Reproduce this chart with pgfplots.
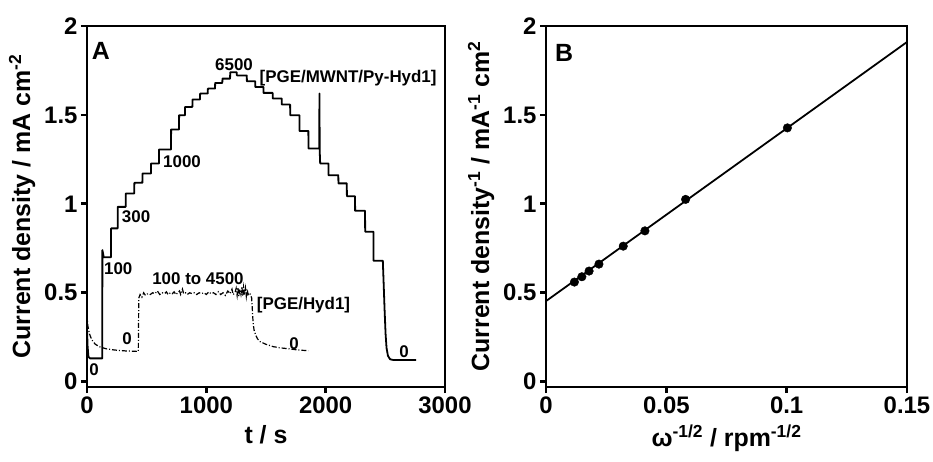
\documentclass[border=0pt]{standalone}
\usepackage{pgfplots}
\pgfplotsset{compat=1.18}
\usepackage{fontspec}
\setmainfont{Liberation Sans}
\begin{document}
\begin{tikzpicture}
\path[use as bounding box] (0,0) rectangle (933bp,462bp);
\pgfplotsset{
  myax/.style={
    scale only axis,
    height=361bp,
    ymin=-0.03, ymax=2,
    ytick={0,0.5,1,1.5,2},
    yticklabels={0,0.5,1,1.5,2},
    tick pos=left,
    tick align=outside,
    major tick length=6bp,
    axis line style={line width=2.8pt},
    every tick/.style={line width=2.8pt,black},
    ticklabel style={font=\fontsize{24}{24}\selectfont\bfseries},
    label style={font=\fontsize{25}{25}\selectfont\bfseries},
    xlabel style={yshift=-5bp},
    ylabel style={yshift=2bp},
    clip=false,
  },
}
\begin{axis}[myax,
  at={(87bp,75bp)}, anchor=south west,
  width=358bp,
  xmin=0, xmax=3000,
  xtick={0,1000,2000,3000},
  xticklabels={0,1000,2000,3000},
  xlabel={t / s},
  ylabel={Current density / mA cm\textsuperscript{-2}},
]
\addplot[black, line width=1.8pt, line join=round] coordinates {
(0,0.30) (5,0.20) (12,0.14) (25,0.131) (128,0.131) (129,0.74) (135,0.72) (140,0.70) (201,0.70)
(202,0.862) (257,0.862) (258,0.983) (324,0.983) (325,1.058) (396,1.058) (397,1.118) (464,1.118)
(465,1.171) (536,1.171) (537,1.227) (603,1.227) (604,1.306) (704,1.306) (705,1.418) (771,1.418)
(772,1.498) (821,1.498) (822,1.545) (883,1.545) (884,1.587) (947,1.587) (948,1.62) (1012,1.62)
(1013,1.648) (1073,1.648) (1074,1.68) (1134,1.68) (1135,1.704) (1199,1.704) (1200,1.74) (1255,1.74)
(1256,1.722) (1339,1.722) (1340,1.689) (1410,1.689) (1411,1.657) (1478,1.657) (1479,1.624) (1556,1.624)
(1557,1.592) (1632,1.592) (1633,1.558) (1702,1.558) (1703,1.498) (1780,1.498) (1781,1.41) (1855,1.41)
(1856,1.311) (1946,1.311) (1948,1.62) (1950,1.30) (1954,1.227) (2023,1.227) (2024,1.161) (2106,1.161)
(2107,1.115) (2177,1.115) (2178,1.043) (2246,1.043) (2247,0.961) (2330,0.961) (2331,0.843) (2400,0.843)
(2401,0.68) (2479,0.68) (2486,0.55) (2494,0.40) (2502,0.27) (2510,0.19) (2522,0.145) (2540,0.126)
(2565,0.122) (2758,0.122)
};
\addplot[black, line width=1.2pt, dash pattern=on 5pt off 2pt on 1pt off 2pt] coordinates {
(0,0.38) (8,0.31) (20,0.27) (40,0.235) (70,0.21) (110,0.195) (160,0.185) (230,0.178) (320,0.173) (430,0.17)
(434,0.47) (445,0.49) (460,0.475) (475,0.50) (490,0.485) (510,0.495) (530,0.49) (550,0.50) (570,0.495)
(590,0.51) (610,0.49) (630,0.50) (650,0.495) (665,0.505) (680,0.49) (700,0.50) (715,0.495) (730,0.505)
(745,0.49) (760,0.50) (775,0.51) (785,0.49) (800,0.52) (810,0.495) (825,0.50) (840,0.49) (860,0.50)
(880,0.495) (900,0.50) (920,0.49) (940,0.50) (960,0.495) (980,0.50) (1000,0.49) (1020,0.505) (1040,0.495)
(1060,0.50) (1080,0.49) (1100,0.505) (1120,0.49) (1140,0.50) (1160,0.485) (1180,0.51) (1200,0.495)
(1215,0.52) (1225,0.49) (1240,0.50) (1250,0.525) (1258,0.485) (1265,0.53) (1272,0.48) (1280,0.52)
(1290,0.49) (1298,0.535) (1305,0.48) (1312,0.53) (1320,0.485) (1328,0.525) (1335,0.48) (1342,0.52)
(1350,0.49) (1360,0.50) (1370,0.49) (1380,0.47) (1386,0.40) (1392,0.33) (1400,0.29) (1415,0.26)
(1430,0.24) (1450,0.225) (1500,0.21) (1560,0.197) (1620,0.19) (1690,0.185) (1770,0.178) (1855,0.174)
};
\begin{scope}[font=\fontsize{17}{17}\selectfont\bfseries]
\node at (axis cs:117,1.86) {\fontsize{25}{25}\selectfont A};
\node at (axis cs:1232,1.78) {6500};
\node at (axis cs:2188,1.705) {[PGE/MWNT/Py-Hyd1]};
\node[anchor=west,inner sep=0pt] at (axis cs:637,1.236) {1000};
\node[anchor=west,inner sep=0pt] at (axis cs:291,0.927) {300};
\node[anchor=west,inner sep=0pt] at (axis cs:142,0.637) {100};
\node at (axis cs:59,0.066) {0};
\node at (axis cs:335,0.244) {0};
\node at (axis cs:930,0.58) {100 to 4500};
\node[anchor=west,inner sep=0pt] at (axis cs:1422,0.431) {[PGE/Hyd1]};
\node at (axis cs:1735,0.216) {0};
\node at (axis cs:2657,0.169) {0};
\end{scope}
\end{axis}
\begin{axis}[myax,
  at={(546bp,75bp)}, anchor=south west,
  width=361bp,
  xmin=0, xmax=0.15,
  xtick={0,0.05,0.1,0.15},
  xticklabels={0,0.05,0.1,0.15},
  xlabel={ω\textsuperscript{-1/2} / rpm\textsuperscript{-1/2}},
  ylabel={Current density\textsuperscript{-1} / mA\textsuperscript{-1} cm\textsuperscript{2}},
]
\addplot[black, line width=1.8pt] coordinates {(0,0.453) (0.15,1.91)};
\addplot[only marks, mark=*, mark size=4.3pt, black] coordinates {
(0.0118,0.560) (0.0149,0.590) (0.0179,0.622) (0.0220,0.661) (0.0321,0.762) (0.0411,0.848) (0.0580,1.025) (0.1003,1.427)
};
\node[font=\fontsize{25}{25}\selectfont\bfseries] at (axis cs:0.0075,1.847) {B};
\end{axis}
\end{tikzpicture}
\end{document}
